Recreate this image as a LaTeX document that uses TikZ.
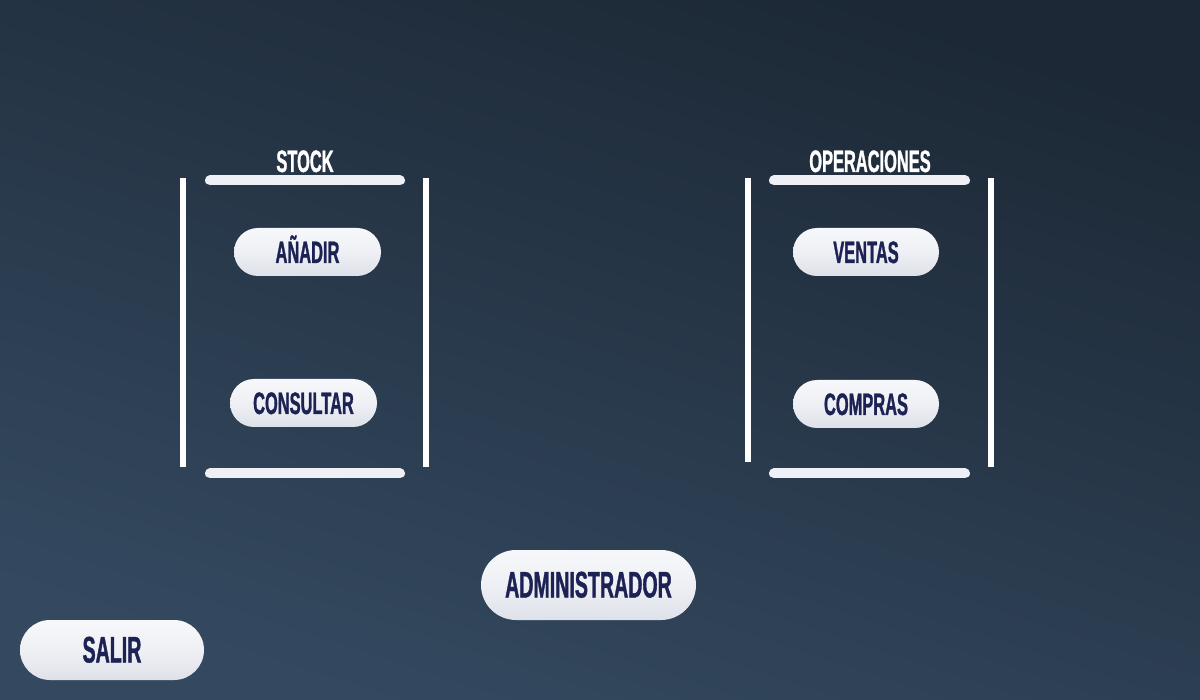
\documentclass[tikz,border=0pt]{standalone}
\usepackage{fontspec}
\newfontfamily\uifont[FakeStretch=0.53,FakeBold=1]{Liberation Sans}
\definecolor{bgtop}{RGB}{28,40,53}
\definecolor{bgmid}{RGB}{42,60,79}
\definecolor{bgbot}{RGB}{52,73,96}
\definecolor{btnfill}{RGB}{238,240,245}
\definecolor{btnedge}{RGB}{222,225,232}
\definecolor{navy}{RGB}{28,34,84}
\tikzset{
  btn/.style={rectangle, rounded corners=24pt, top color=btnfill!50!white, bottom color=btnedge,
    middle color=btnfill, text=navy, font=\uifont\bfseries\fontsize{31}{31}\selectfont,
    text height=22pt, text depth=0pt, minimum width=147pt, minimum height=48pt, inner sep=0pt},
  bigbtn/.style={btn, rounded corners=30pt, font=\uifont\bfseries\fontsize{37}{37}\selectfont,
    text height=25pt},
  title/.style={text=white, font=\uifont\bfseries\fontsize{31}{31}\selectfont,
    text height=22pt, text depth=0pt, inner sep=0pt},
  bar/.style={line width=10pt, line cap=round, color=btnfill},
  wall/.style={line width=6pt, color=white}
}
\begin{document}
\begin{tikzpicture}[x=1pt,y=-1pt]

\shade[top color=bgtop, middle color=bgmid, bottom color=bgbot, shading angle=-18] (0,0) rectangle (1200,700);
\useasboundingbox (0,0) rectangle (1200,700);

% stock
\node[title] (stock) at (305,161) {STOCK};
\draw[wall] (183,178) -- (183,467);
\draw[wall] (426,178) -- (426,467);
\draw[bar] (210,180.5) -- (400,180.5);
\draw[bar] (210,473.5) -- (400,473.5);
\node[btn] (anadir) at (307.5,252) {AÑADIR};
\node[btn] (consultar) at (303.5,403) {CONSULTAR};

% operaciones
\node[title] (operaciones) at (870,161) {OPERACIONES};
\draw[wall] (748,178) -- (748,462);
\draw[wall] (991,178) -- (991,467);
\draw[bar] (774,180.5) -- (965,180.5);
\draw[bar] (774,473.5) -- (965,473.5);
\node[btn, minimum width=146pt] (ventas) at (866,252) {VENTAS};
\node[btn, minimum width=146pt] (compras) at (866,404) {COMPRAS};

% abajo
\node[bigbtn, minimum width=215pt, minimum height=70pt, rounded corners=35pt] (admin) at (588.5,585) {ADMINISTRADOR};
\node[bigbtn, minimum width=184pt, minimum height=60pt] (salir) at (112,650) {SALIR};

\end{tikzpicture}
\end{document}
